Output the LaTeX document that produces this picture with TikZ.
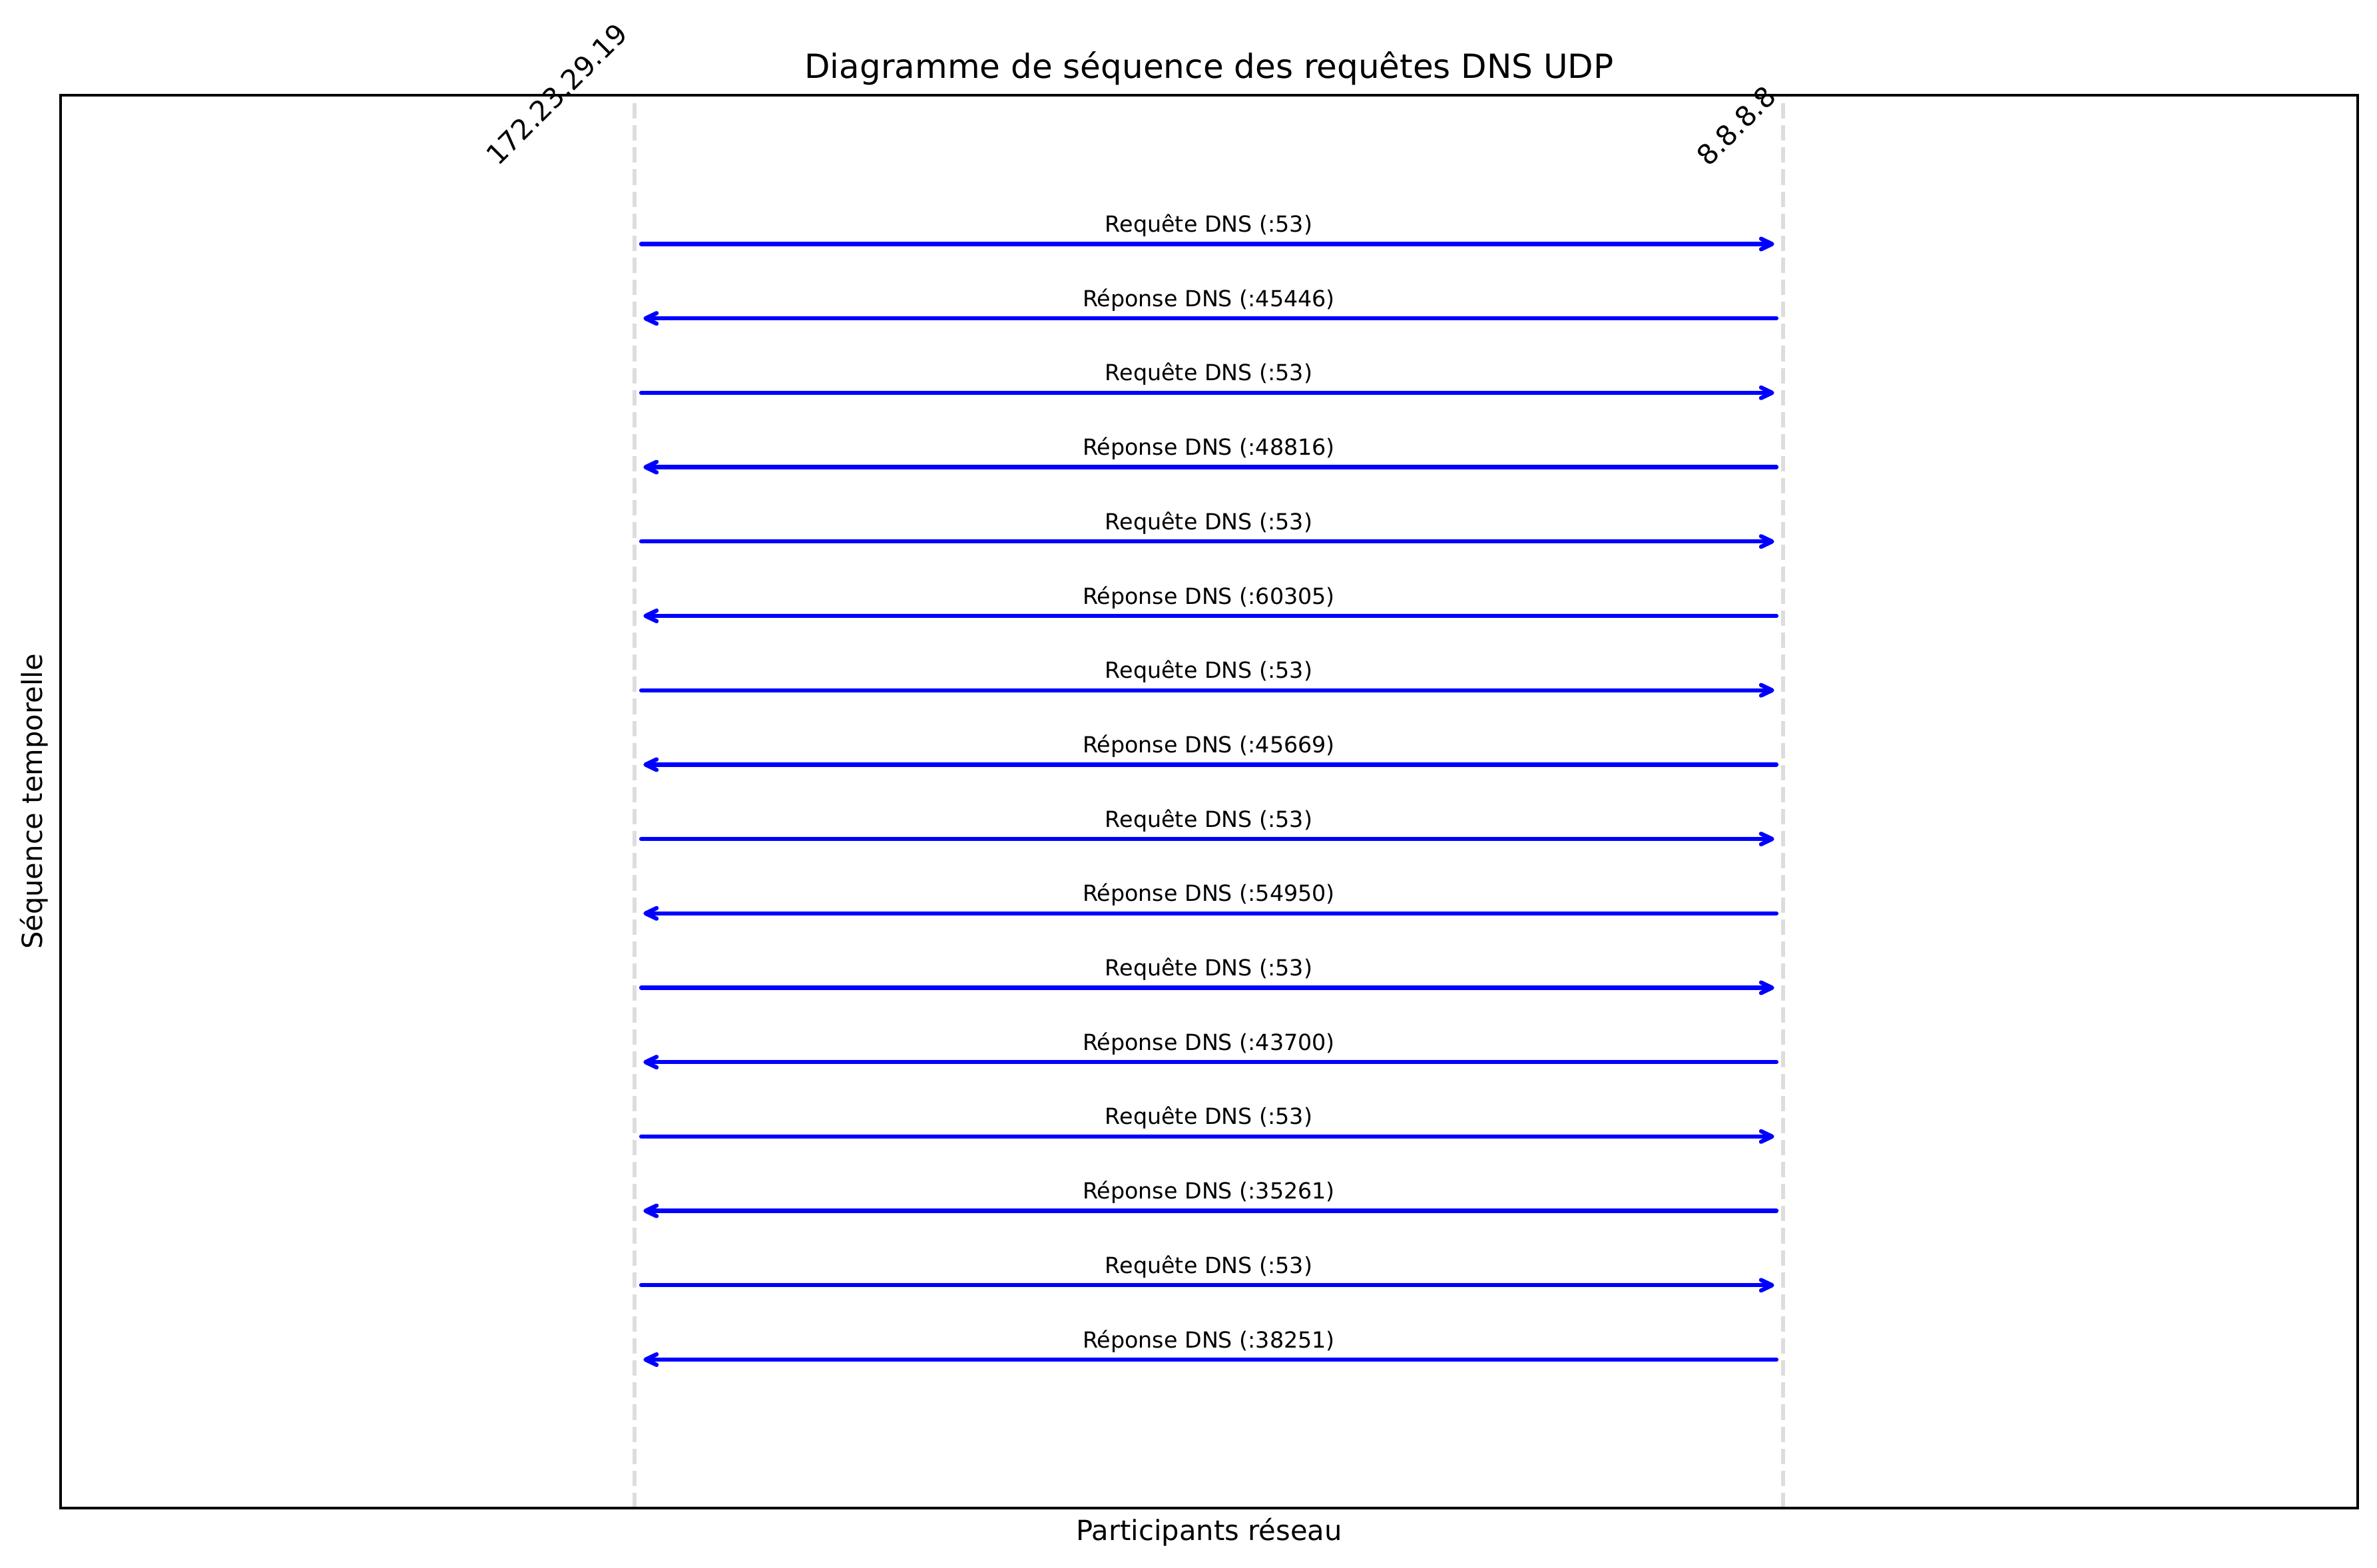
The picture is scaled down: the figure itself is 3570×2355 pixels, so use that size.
\documentclass[tikz,border=0pt]{standalone}
\usepackage{fontspec}
\setmainfont{DejaVu Sans}
\usepackage{tikz}
\usetikzlibrary{arrows.meta}
\definecolor{lifegray}{RGB}{221,221,221}
\definecolor{msgblue}{RGB}{0,0,255}
\tikzset{
  frame/.style={draw=black, line width=0.8pt},
  lifeline/.style={draw=lifegray, line width=1.5pt, dash pattern=on 5.55pt off 2.4pt},
  msgarrow/.style={-{Straight Barb[length=4pt, width=3.8pt, round]}, line width=1.5pt,
    color=msgblue, line cap=round, shorten <=2.4pt, shorten >=3.2pt},
  msglabel/.style={anchor=base, yshift=4.3pt, inner sep=0pt, text=black,
    font=\fontsize{8}{9.6}\selectfont},
  partlabel/.style={rotate=45, anchor=south east, inner sep=0pt, text depth=0.236em,
    font=\fontsize{10}{12}\selectfont},
  axislabel/.style={anchor=base, inner sep=0pt, font=\fontsize{10}{12}\selectfont},
  titlelabel/.style={anchor=base, inner sep=0pt, font=\fontsize{12}{14.4}\selectfont}
}

\begin{document}
\begin{tikzpicture}[x=0.24pt, y=-0.24pt]
  \useasboundingbox (0,0) rectangle (3570,2355);
  % lignes de vie
  \coordinate (cliTop) at (953,143);
  \coordinate (cliBot) at (953,2265);
  \coordinate (srvTop) at (2678,143);
  \coordinate (srvBot) at (2678,2265);
  \draw[lifeline] (cliBot) -- (cliTop);
  \draw[lifeline] (srvBot) -- (srvTop);
  % cadre et textes
  \draw[frame] (91,143) rectangle (3541,2265);
  \node[titlelabel] (title) at (1816,118) {Diagramme de séquence des requêtes DNS UDP};
  \node[axislabel] (xlab) at (1816,2313) {Participants réseau};
  \node[axislabel, rotate=90] (ylab) at (63,1204) {Séquence temporelle};
  \node[partlabel] (cli) at (953,61) {172.23.29.19};
  \node[partlabel] (srv) at (2678,155) {8.8.8.8};
  % messages
  \foreach \port [count=\i from 0] in {45446,48816,60305,45669,54950,43700,35261,38251} {
    \pgfmathsetmacro{\yq}{366.5+223.4*\i}
    \pgfmathsetmacro{\yr}{\yq+111.7}
    \coordinate (cq\i) at (953,\yq);
    \coordinate (sq\i) at (2678,\yq);
    \coordinate (cr\i) at (953,\yr);
    \coordinate (sr\i) at (2678,\yr);
    \draw[msgarrow] (cq\i) -- node[msglabel]{Requête DNS (:53)} (sq\i);
    \draw[msgarrow] (sr\i) -- node[msglabel]{Réponse DNS (:\port)} (cr\i);
  }
\end{tikzpicture}
\end{document}
